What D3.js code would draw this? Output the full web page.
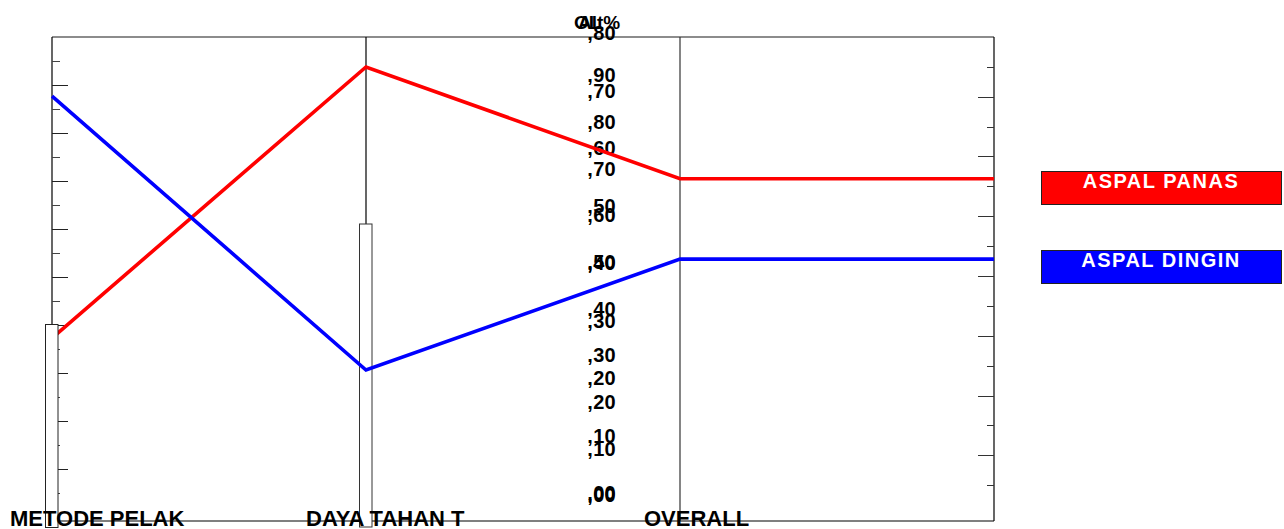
<!DOCTYPE html>
<html>
<head>
<meta charset="utf-8">
<script src="https://cdn.jsdelivr.net/npm/d3@7"></script>
<style>
  html, body { margin: 0; padding: 0; background: #fff; }
  svg { display: block; }
  text { font-family: "Liberation Sans", Arial, sans-serif; font-weight: bold; }
</style>
</head>
<body>
<svg id="chart" width="1284" height="529"></svg>
<script>
// ---- data ----
const categories = ["METODE PELAK", "DAYA TAHAN T", "OVERALL", ""];
const seriesNames = ["ASPAL PANAS", "ASPAL DINGIN"];
const aspalPanas = [0.378, 0.938, 0.707, 0.707];
const aspalDingin = [0.878, 0.312, 0.541, 0.541];
const seriesColors = ["#ff0000", "#0000ff"];
const tickLabelsA = [",00", ",10", ",20", ",30", ",40", ",50", ",60", ",70", ",80", ",90"];
const tickValuesA = [0, 0.1, 0.2, 0.3, 0.4, 0.5, 0.6, 0.7, 0.8, 0.9];
const tickLabelsB = [",00", ",10", ",20", ",30", ",40", ",50", ",60", ",70", ",80"];
const tickValuesB = [0, 0.1, 0.2, 0.3, 0.4, 0.5, 0.6, 0.7, 0.8];
const axisTitles = ["Alt%", "OL"];

// ---- layout ----
const pTop = 37, pBottom = 521, pLeft = 52, pRight = 994;
const svg = d3.select("#chart");

const x = d3.scalePoint().domain(d3.range(categories.length)).range([pLeft, pRight]);
const yLine = d3.scaleLinear().domain([0, 1]).range([pBottom, pTop]);
const yLeft = d3.scaleLinear().domain([0, 1]).range([517, pTop]);
const yRight = d3.scaleLinear().domain([0, 0.8]).range([515, pTop]);
const yA = d3.scaleLinear().domain([0, 0.9]).range([495, 75]);
const yB = d3.scaleLinear().domain([0, 0.8]).range([493, 33]);

// frame
svg.append("line").attr("x1", pLeft).attr("x2", pRight).attr("y1", pTop).attr("y2", pTop)
  .attr("stroke", "#666").attr("stroke-width", 1.5);
svg.append("line").attr("x1", 45).attr("x2", pRight).attr("y1", pBottom).attr("y2", pBottom)
  .attr("stroke", "#555").attr("stroke-width", 1.5);
svg.append("line").attr("x1", pRight).attr("x2", pRight).attr("y1", pTop).attr("y2", pBottom)
  .attr("stroke", "#000").attr("stroke-width", 1.2);

// left axis
svg.append("line").attr("x1", x(0)).attr("x2", x(0)).attr("y1", pTop).attr("y2", pBottom)
  .attr("stroke", "#000").attr("stroke-width", 1.2);
const leftTicks = d3.range(1, 20).map(i => i * 0.05);
svg.append("g").selectAll("line").data(leftTicks).join("line")
  .attr("x1", x(0)).attr("x2", (d, i) => x(0) + (i % 2 === 1 ? 16 : 8))
  .attr("y1", d => Math.round(yLeft(d)) + 0.5).attr("y2", d => Math.round(yLeft(d)) + 0.5)
  .attr("stroke", (d, i) => i % 2 === 1 ? "#222" : "#444").attr("stroke-width", 1);

// right axis ticks
const rightTicks = d3.range(1, 16).map(i => i * 0.05);
svg.append("g").selectAll("line").data(rightTicks).join("line")
  .attr("x1", pRight).attr("x2", (d, i) => pRight - (i % 2 === 0 ? 7 : 16))
  .attr("y1", d => Math.round(yRight(d)) + 0.5).attr("y2", d => Math.round(yRight(d)) + 0.5)
  .attr("stroke", "#333").attr("stroke-width", 1);

// middle axis
svg.append("line").attr("x1", x(1)).attr("x2", x(1)).attr("y1", pTop).attr("y2", 224)
  .attr("stroke", "#000").attr("stroke-width", 1.2);
svg.append("rect").attr("x", x(1) - 6.5).attr("y", 224).attr("width", 12.5).attr("height", pBottom - 224 + 6)
  .attr("fill", "#fff").attr("stroke", "#333").attr("stroke-width", 1);

// third axis
svg.append("line").attr("x1", x(2)).attr("x2", x(2)).attr("y1", pTop).attr("y2", pBottom)
  .attr("stroke", "#333").attr("stroke-width", 1.2);

// tick labels (two overlapping scales)
const lblX = 616;
svg.append("g").selectAll("text").data(tickValuesA).join("text")
  .attr("x", lblX).attr("y", d => yA(d)).attr("dy", "0.36em")
  .attr("text-anchor", "end").attr("font-size", 20).attr("letter-spacing", 0.3).attr("fill", "#000")
  .text((d, i) => tickLabelsA[i]);
svg.append("g").selectAll("text").data(tickValuesB).join("text")
  .attr("x", lblX).attr("y", d => yB(d)).attr("dy", "0.36em")
  .attr("text-anchor", "end").attr("font-size", 20).attr("letter-spacing", 0.3).attr("fill", "#000")
  .text((d, i) => tickLabelsB[i]);

// axis titles (overlapping)
svg.append("text").attr("x", 578).attr("y", 29).attr("font-size", 19).attr("fill", "#000").text(axisTitles[0]);
svg.append("text").attr("x", 574).attr("y", 29).attr("font-size", 19).attr("fill", "#000").text(axisTitles[1]);

// series lines
const line = d3.line().x((d, i) => x(i)).y(d => yLine(d));
[aspalPanas, aspalDingin].forEach((s, k) => {
  svg.append("path").datum(s).attr("d", line)
    .attr("fill", "none").attr("stroke", seriesColors[k]).attr("stroke-width", 3.6)
    .attr("stroke-linejoin", "miter");
});

// left axis box (over lines)
svg.append("rect").attr("x", 45.5).attr("y", 324.5).attr("width", 12.5).attr("height", pBottom - 324 + 6)
  .attr("fill", "#fff").attr("stroke", "#222").attr("stroke-width", 1);

// category labels
const catLabelOffsets = [-42, -60, -36];
svg.append("g").selectAll("text").data(categories.slice(0, 3)).join("text")
  .attr("x", (d, i) => x(i) + catLabelOffsets[i]).attr("y", 526)
  .attr("font-size", 22).attr("fill", "#000").text(d => d);

// legend
const legY = [171, 250];
const lg = svg.append("g").selectAll("g").data(seriesNames).join("g");
lg.append("rect").attr("x", 1041.5).attr("y", (d, i) => legY[i] + 0.5).attr("width", 240).attr("height", 33)
  .attr("fill", (d, i) => seriesColors[i]).attr("stroke", "#222").attr("stroke-width", 1);
lg.append("text").attr("x", 1161).attr("y", (d, i) => legY[i] + 16.5)
  .attr("text-anchor", "middle").attr("font-size", 20).attr("letter-spacing", 1.5)
  .attr("fill", "#fff").text(d => d);
</script>
</body>
</html>
